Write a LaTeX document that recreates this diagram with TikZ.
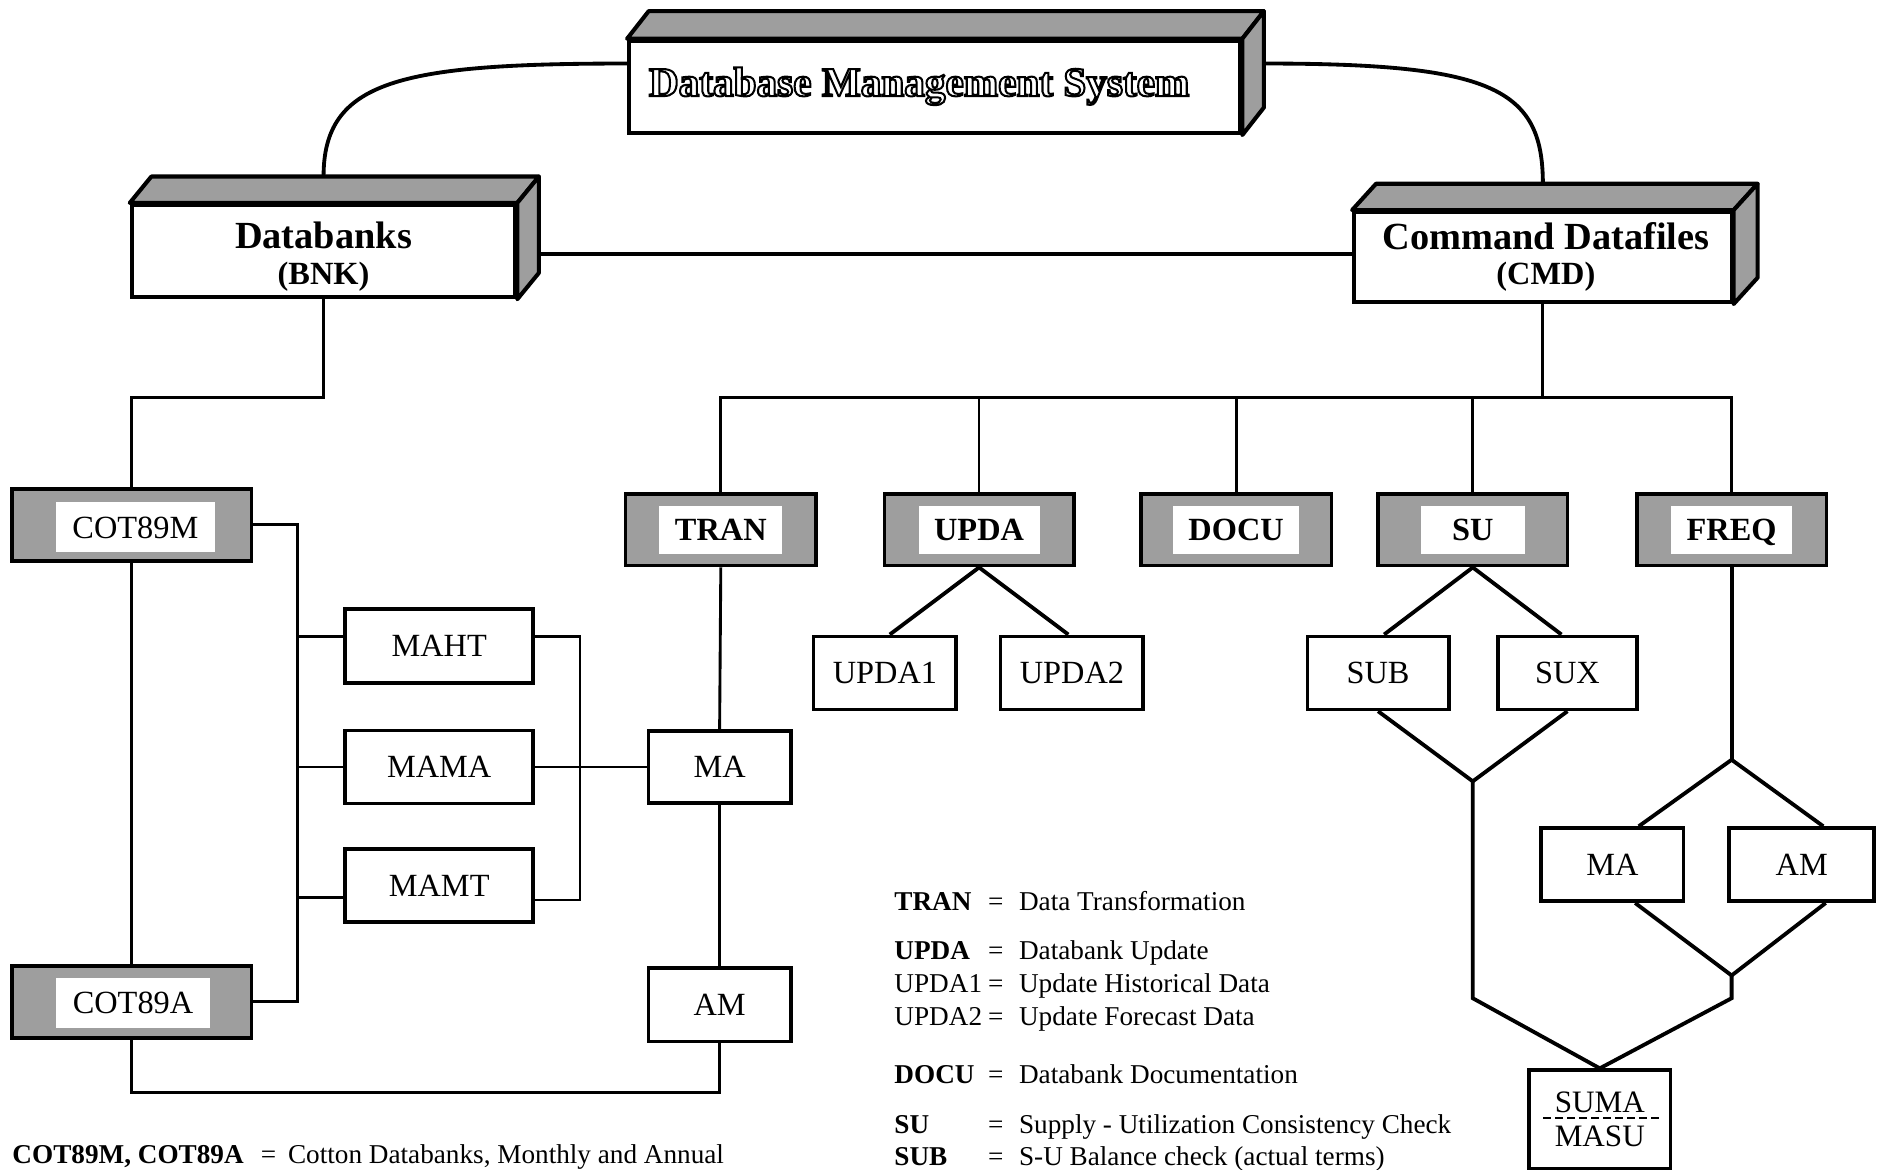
\documentclass[tikz,border=0pt]{standalone}
\usepackage{fontspec}
\setmainfont{Liberation Serif}
\newcommand{\lgrow}[4]{%
  \node[lg, anchor=base west] (#1l) at (746,#2) {#3};
  \node[lg, anchor=base] (#1e) at (831,#2) {=};
  \node[lg, anchor=base west] (#1d) at (850,#2) {#4};
}
\newcommand{\boxfaces}[3]{%
  \draw[face] (#1.north west) -- ++(#2,#3) -- ([shift={(#2,#3)}]#1.north east) -- (#1.north east) -- cycle;
  \draw[face] (#1.north east) -- ++(#2,#3) -- ([shift={(#2,#3)}]#1.south east) -- (#1.south east) -- cycle;
}
\newcommand{\outlinetext}[1]{{\color{white}\special{pdf:literal direct 2 Tr 0.85 w 0 G}#1\special{pdf:literal direct 0 Tr 0 G}}}
\begin{document}
\begin{tikzpicture}[x=0.5pt,y=-0.5pt,
  conn/.style={line width=1.2pt, line join=miter},
  heavy/.style={line width=1.6pt},
  plain/.style={draw, line width=1.5pt, fill=white, inner sep=0pt, text depth=0pt, font=\fontsize{13.5}{14}\selectfont},
  shbox/.style={draw, line width=1.5pt, fill=black!38, inner sep=0pt},
  wl/.style={fill=white, inner xsep=6.5pt, inner ysep=0pt, minimum height=20pt, text depth=0pt, font=\fontsize{13.5}{14}\selectfont\bfseries},
  front/.style={draw, line width=1.7pt, fill=white, inner sep=0pt},
  face/.style={draw, line width=1.7pt, fill=black!38, line join=round},
  lg/.style={inner sep=0pt, font=\fontsize{11.35}{13}\selectfont},
  ttl/.style={inner sep=0pt, font=\fontsize{16}{18}\selectfont\bfseries},
  sttl/.style={inner sep=0pt, font=\fontsize{13.5}{15}\selectfont\bfseries},
]
\useasboundingbox (0,0) rectangle (1568,976);

% ---------- 3D boxes ----------
\node[front, minimum width=255pt, minimum height=38.5pt] (dbms) at (780,72.5) {};
\boxfaces{dbms}{18}{-23}
\node[inner sep=0pt, font=\fontsize{17.2}{18}\selectfont\bfseries] (dbmsT) at (767,72) {\outlinetext{Database Management System}};

\node[front, minimum width=160pt, minimum height=38.5pt] (bnk) at (270,209.5) {};
\boxfaces{bnk}{18}{-22}
\node[ttl, anchor=base] (bnkT) at (270,207.5) {Databanks};
\node[sttl, anchor=base] (bnkS) at (270,237) {(BNK)};

\node[front, minimum width=157.5pt, minimum height=37.5pt] (cmd) at (1287.5,214.5) {};
\boxfaces{cmd}{20}{-22}
\node[ttl, anchor=base] (cmdT) at (1290,208.5) {Command Datafiles};
\node[sttl, anchor=base] (cmdS) at (1290,237) {(CMD)};

% ---------- shaded boxes ----------
\node[shbox, minimum width=100pt, minimum height=30pt] (cotm) at (110,438) {};
\node[wl, font=\fontsize{13.5}{14}\selectfont, inner xsep=7pt, minimum height=21pt] (cotmL) at (113,440) {COT89M};
\node[shbox, minimum width=100pt, minimum height=30pt] (cota) at (110,836) {};
\node[wl, font=\fontsize{13.5}{14}\selectfont, inner xsep=7pt, minimum height=21pt] (cotaL) at (111,837) {COT89A};

\node[shbox, minimum width=79.5pt, minimum height=30pt] (tran) at (601.5,442) {};
\node[wl] (tranL) at (601.5,442) {TRAN};
\node[shbox, minimum width=79pt, minimum height=30pt] (upda) at (817,442) {};
\node[wl] (updaL) at (817,442) {UPDA};
\node[shbox, minimum width=79.5pt, minimum height=30pt] (docu) at (1031.5,442) {};
\node[wl] (docuL) at (1031.5,442) {DOCU};
\node[shbox, minimum width=79pt, minimum height=30pt] (su) at (1229,442) {};
\node[wl, inner xsep=13pt] (suL) at (1229,442) {SU};
\node[shbox, minimum width=79pt, minimum height=30pt] (freq) at (1445,442) {};
\node[wl] (freqL) at (1445,442) {FREQ};

% ---------- plain boxes ----------
\node[plain, minimum width=78.5pt, minimum height=31pt] (maht) at (366.5,539) {MAHT};
\node[plain, minimum width=78.5pt, minimum height=30.5pt] (mama) at (366.5,640) {MAMA};
\node[plain, minimum width=78.5pt, minimum height=30.5pt] (mamt) at (366.5,739) {MAMT};
\node[plain, minimum width=59.5pt, minimum height=30pt] (ma) at (600.5,640) {MA};
\node[plain, minimum width=59.5pt, minimum height=30.5pt] (am) at (600.5,838.5) {AM};
\node[plain, minimum width=59.5pt, minimum height=30.5pt] (upda1) at (738.5,561.5) {UPDA1};
\node[plain, minimum width=59.5pt, minimum height=30.5pt] (upda2) at (894.5,561.5) {UPDA2};
\node[plain, minimum width=59pt, minimum height=30.5pt] (sub) at (1150,561.5) {SUB};
\node[plain, minimum width=58pt, minimum height=30.5pt] (sux) at (1308,561.5) {SUX};
\node[plain, minimum width=59.5pt, minimum height=30.5pt] (ma2) at (1345.5,721.5) {MA};
\node[plain, minimum width=60.5pt, minimum height=30.5pt] (am2) at (1503.5,721.5) {AM};
\node[plain, minimum width=59pt, minimum height=41pt, align=center, text depth=, font=\fontsize{13}{14}\selectfont] (suma) at (1335,934) {SUMA\\MASU};
\draw[line width=1.1pt, dash pattern=on 3pt off 2pt] ([xshift=-23.5pt,yshift=0.5pt]suma.center) -- ([xshift=24.5pt,yshift=0.5pt]suma.center);

% ---------- connectors ----------
\draw[heavy] ([yshift=9.75pt]dbms.west) .. controls +(-190,0) and +(0,-80) .. ([yshift=11pt]bnk.north);
\draw[heavy] ([shift={(18,-19.5)}]dbms.east) .. controls +(190,0) and +(0,-80) .. ([yshift=11pt]cmd.north);
\coordinate (bnkside) at ([shift={(18,2.5)}]bnk.east);
\draw[heavy] (bnkside) -- (bnkside -| cmd.west);

\draw[conn] (bnk.south) -- ++(0,82) -| (cotm.north);
\draw[conn] (cotm.south) -- (cota.north);
\coordinate (lbus) at (248,640);
\draw[conn] (cotm.east) -| (lbus) |- (cota.east);
\draw[conn] ([yshift=4pt]maht.west) -- ([yshift=4pt]maht.west -| lbus);
\draw[conn] (mama.west) -- (mama.west -| lbus);
\draw[conn] ([yshift=-5pt]mamt.west) -- ([yshift=-5pt]mamt.west -| lbus);
\coordinate (rbus) at (484,640);
\draw[conn] ([yshift=4pt]maht.east) -| (rbus) |- ([yshift=-6pt]mamt.east);
\draw[conn] (mama.east) -- (ma.west);
\draw[conn] (tran.south) -- (ma.north);
\draw[conn] (ma.south) -- (am.north);
\draw[conn] (cota.south) -- ++(0,44) -| (am.south);

\coordinate (bus) at (1287.5,332);
\draw[conn] (cmd.south) -- (bus);
\draw[conn] (tran.north) |- (freq.north |- bus) -- (freq.north);
\foreach \n in {upda,docu,su} \draw[conn] (\n.north) -- (\n.north |- bus);

\draw[heavy] ([shift={(4,0)}]upda1.north) -- (upda.south) -- ([shift={(-3,0)}]upda2.north);
\draw[heavy] ([shift={(5,0)}]sub.north) -- (su.south) -- ([shift={(-5,0)}]sux.north);

\coordinate (sujoin) at (1229,652);
\coordinate (suend) at (1229,833);
\draw[heavy] (sub.south) -- (sujoin) -- (sux.south);
\draw[heavy] (sujoin) -- (suend) -- (suma.north);

\coordinate (fsplit) at (1445,634);
\coordinate (fjoin) at (1445,814);
\coordinate (fend) at (1445,833);
\draw[heavy] (freq.south) -- (fsplit);
\draw[heavy] ([shift={(22,0)}]ma2.north) -- (fsplit) -- ([shift={(18,0)}]am2.north);
\draw[heavy] ([shift={(19,0)}]ma2.south) -- (fjoin) -- ([shift={(20,0)}]am2.south);
\draw[heavy] (fjoin) -- (fend) -- (suma.north);

% ---------- legends ----------
\lgrow{lgA}{759.5}{\textbf{TRAN}}{Data Transformation}
\lgrow{lgB}{800.5}{\textbf{UPDA}}{Databank Update}
\lgrow{lgC}{828.5}{UPDA1}{Update Historical Data}
\lgrow{lgD}{855.5}{UPDA2}{Update Forecast Data}
\lgrow{lgE}{904.5}{\textbf{DOCU}}{Databank Documentation}
\lgrow{lgF}{945.5}{\textbf{SU}}{Supply - Utilization Consistency Check}
\lgrow{lgG}{972.5}{\textbf{SUB}}{S-U Balance check (actual terms)}

\node[lg, anchor=base west] (cotl) at (10,970.5) {\textbf{COT89M, COT89A}};
\node[lg, anchor=base] (cote) at (224,970.5) {=};
\node[lg, anchor=base west] (cotd) at (240,970.5) {Cotton Databanks, Monthly and Annual};
\end{tikzpicture}
\end{document}
